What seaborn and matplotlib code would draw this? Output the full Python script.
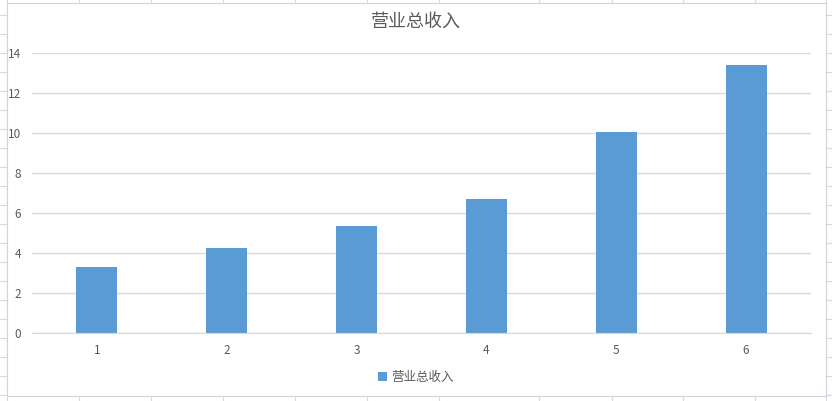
import matplotlib
matplotlib.use("Agg")
import matplotlib.pyplot as plt
import matplotlib.patches as mpatches
import seaborn as sns
import pandas as pd

# values
periods = ["1", "2", "3", "4", "5", "6"]
revenue = [3.3, 4.25, 5.35, 6.7, 10.05, 13.4]
series_name = "营业总收入"

sns.set_style("white")
plt.rcParams['font.family'] = ['Noto Sans CJK SC', 'DejaVu Sans']

df = pd.DataFrame({"period": periods, "revenue": revenue})

fig = plt.figure(figsize=(8.32, 4.01), dpi=100)
W, H = 832, 401

# faint spreadsheet cell grid behind the chart
for xv in [7, 79, 151, 223, 295, 367, 439, 539, 612, 683, 755, 826]:
    fig.add_artist(plt.Line2D([xv / W, xv / W], [0, 1], color="#d4d8e0", lw=0.8, zorder=-3))
for yv in range(15, 402, 19):
    fig.add_artist(plt.Line2D([0, 1], [1 - yv / H, 1 - yv / H], color="#d4d8e0", lw=0.8, zorder=-3))
# chart area (white with border)
fig.add_artist(mpatches.Rectangle((7 / W, 1 - 396 / H), 819 / W, 393 / H,
                                  facecolor="white", edgecolor="#d0d4dc", lw=0.8, zorder=-2))

ax = fig.add_axes([32 / W, 1 - 333 / H, 779 / W, 280 / H])
ax.set_facecolor("none")
sns.barplot(data=df, x="period", y="revenue", color="#5B9BD5", width=0.315,
            saturation=1, linewidth=0, label=series_name, ax=ax)

ax.set_ylim(0, 14)
ax.set_xlim(-0.5, 5.5)
ax.set_yticks(range(0, 15, 2))
ax.yaxis.grid(True, color="#D9D9D9", lw=1)
ax.set_axisbelow(True)
for s in ["top", "right", "left"]:
    ax.spines[s].set_visible(False)
ax.spines["bottom"].set_color("#D9D9D9")
ax.tick_params(axis="both", length=0, labelsize=8.5, colors="#595959")
ax.tick_params(axis="y", pad=8)
ax.tick_params(axis="x", pad=8)
ax.set_xlabel("")
ax.set_ylabel("")

fig.text(0.5, 1 - 22 / H, series_name, ha="center", va="center",
         fontsize=13, color="#595959")

ax.legend(loc="center", bbox_to_anchor=(0.5, 1 - 377 / H), bbox_transform=fig.transFigure,
          frameon=False, fontsize=9, handlelength=0.75, handleheight=0.75,
          handletextpad=0.35, labelcolor="#595959")

fig.savefig("out.png", dpi=100)
